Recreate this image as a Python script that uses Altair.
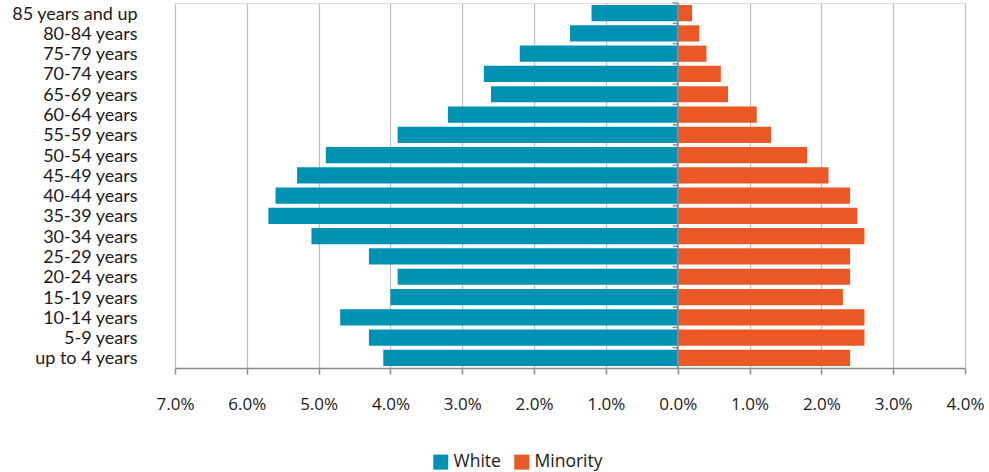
import altair as alt
import pandas as pd

# Age groups, top to bottom
age_groups = [
    "85 years and up", "80-84 years", "75-79 years", "70-74 years",
    "65-69 years", "60-64 years", "55-59 years", "50-54 years",
    "45-49 years", "40-44 years", "35-39 years", "30-34 years",
    "25-29 years", "20-24 years", "15-19 years", "10-14 years",
    "5-9 years", "up to 4 years",
]

# Share of total population (%)
white_pct = [1.2, 1.5, 2.2, 2.7, 2.6, 3.2, 3.9, 4.9, 5.3, 5.6,
             5.7, 5.1, 4.3, 3.9, 4.0, 4.7, 4.3, 4.1]
minority_pct = [0.2, 0.3, 0.4, 0.6, 0.7, 1.1, 1.3, 1.8, 2.1, 2.4,
                2.5, 2.6, 2.4, 2.4, 2.3, 2.6, 2.6, 2.4]

groups = ["White", "Minority"]
colors = ["#0091B3", "#E95826"]

rows = []
for age, w, m in zip(age_groups, white_pct, minority_pct):
    rows.append({"age": age, "group": "White", "value": -w / 100})
    rows.append({"age": age, "group": "Minority", "value": m / 100})
df = pd.DataFrame(rows)
ticks_df = pd.DataFrame({"age": age_groups})

FONT = "Open Sans"
CAT_FONT = "Lato"

y_scale = alt.Scale(domain=age_groups, paddingInner=0.2, paddingOuter=0.1)
x_scale = alt.Scale(domain=[-0.07, 0.04], nice=False, zero=False)

bars = alt.Chart(df).mark_bar().encode(
    x=alt.X(
        "value:Q",
        scale=x_scale,
        axis=alt.Axis(
            title=None,
            values=[-0.07, -0.06, -0.05, -0.04, -0.03, -0.02, -0.01,
                    0, 0.01, 0.02, 0.03, 0.04],
            labelExpr="format(abs(datum.value), '.1%')",
            labelFlush=False,
            labelOverlap=False,
            grid=True,
            gridColor="#BFBFBF",
            gridWidth=1.2,
            domainColor="#8C8C8C",
            domainWidth=1.5,
            tickColor="#8C8C8C",
            tickWidth=1.5,
            tickSize=6,
            labelPadding=22,
            labelFont=FONT,
            labelFontSize=17,
            labelColor="#1A1A1A",
        ),
    ),
    y=alt.Y(
        "age:N",
        scale=y_scale,
        sort=age_groups,
        axis=alt.Axis(
            title=None,
            domain=False,
            ticks=False,
            labelPadding=38,
            labelOffset=1.5,
            labelFont=CAT_FONT,
            labelFontSize=18,
            labelColor="#1A1A1A",
        ),
    ),
    color=alt.Color(
        "group:N",
        scale=alt.Scale(domain=groups, range=colors),
        sort=groups,
        legend=alt.Legend(
            title=None,
            orient="none",
            direction="horizontal",
            legendX=257,
            legendY=450,
            symbolType="square",
            symbolSize=225,
            symbolStrokeWidth=0,
            labelFont=FONT,
            labelFontSize=17.5,
            labelColor="#1A1A1A",
            columnPadding=12,
            labelOffset=4,
        ),
    ),
)

# Vertical axis line at zero
zero_line = alt.Chart(pd.DataFrame({"v": [0]})).mark_rule(
    color="#8C8C8C", strokeWidth=1.5
).encode(x=alt.X("v:Q", scale=x_scale))

# Category separator ticks on the zero line
sep_ticks = alt.Chart(ticks_df).mark_rule(
    color="#8C8C8C", strokeWidth=1.5
).encode(
    y=alt.Y("age:N", scale=y_scale, sort=age_groups, bandPosition=0),
    x=alt.datum(-0.0007, scale=x_scale),
    x2=alt.datum(0),
    yOffset=alt.value(-2),
)

chart = alt.layer(bars, zero_line, sep_ticks).properties(
    width=790,
    height=365,
    padding={"left": 175, "top": 3, "right": 24, "bottom": 104},
    autosize=alt.AutoSizeParams(type="none"),
).configure_view(stroke=None).configure(background="white")

chart.save("out.html", embed_options={"renderer": "svg", "actions": False})
